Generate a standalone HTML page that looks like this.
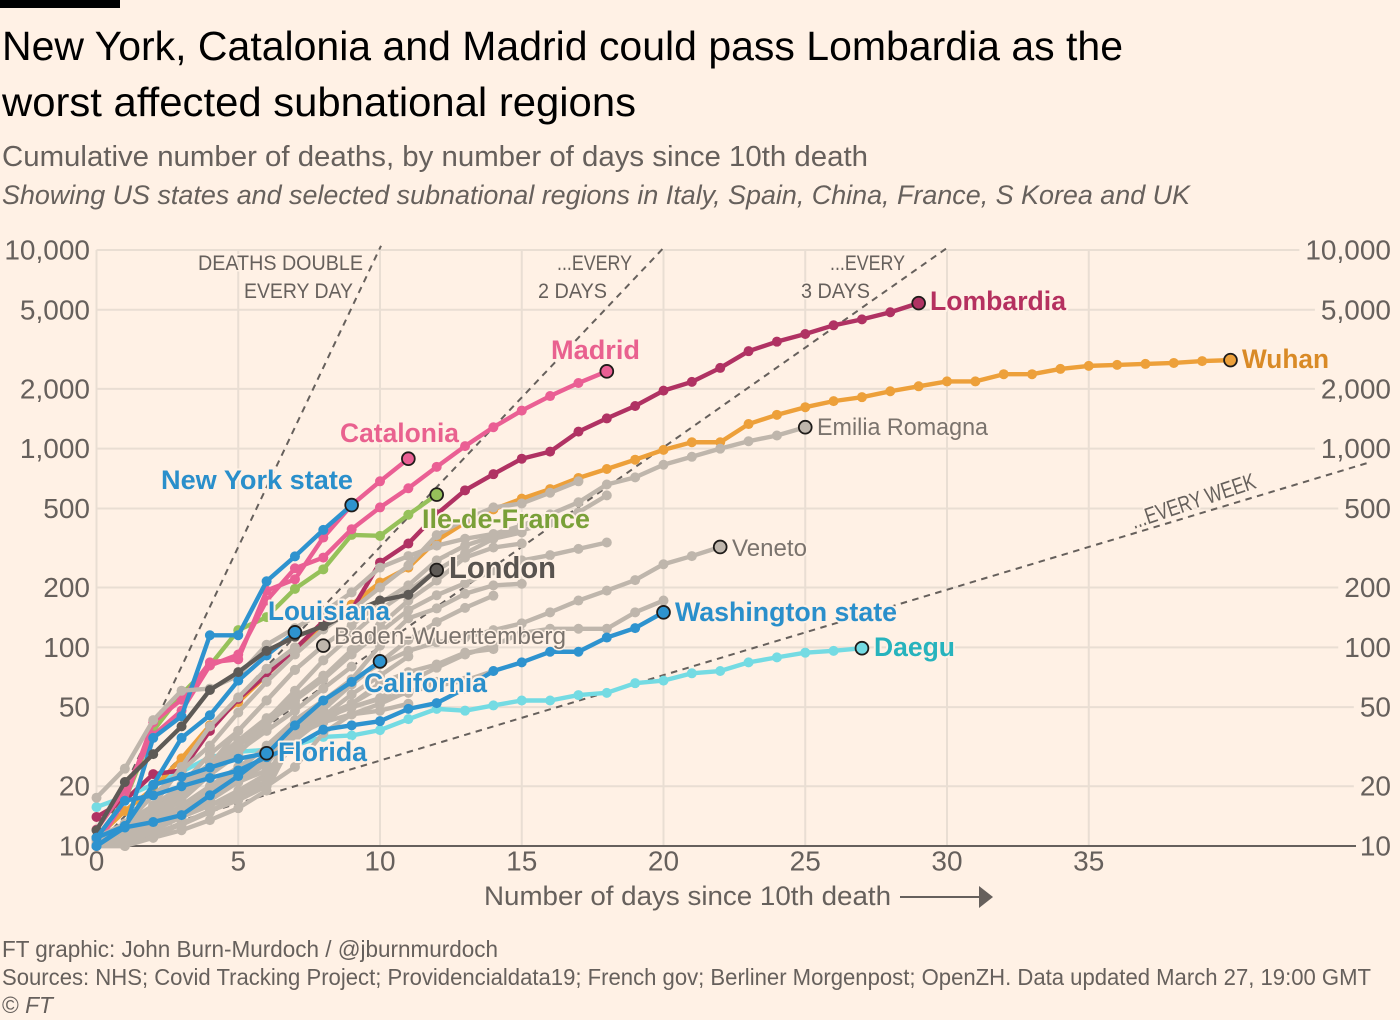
<!DOCTYPE html>
<html lang="en">
<head>
<meta charset="utf-8">
<title>New York, Catalonia and Madrid could pass Lombardia</title>
<style>
html,body{margin:0;padding:0;background:#fff1e5;}
svg{display:block;font-family:"Liberation Sans",sans-serif;}
.axis{font-size:28px;fill:#66605c;}
.note{font-size:21px;fill:#66605c;paint-order:stroke;stroke:#fff1e5;stroke-width:3px;}
.lab{font-weight:700;font-size:27px;paint-order:stroke;stroke:#fff1e5;stroke-width:4px;stroke-linejoin:round;}
.glab{font-size:24px;fill:#7a736d;paint-order:stroke;stroke:#fff1e5;stroke-width:3px;stroke-linejoin:round;}
.foot{font-size:23px;fill:#66605c;}
</style>
</head>
<body>
<svg id="chart" width="1400" height="1020" viewBox="0 0 1400 1020" xmlns="http://www.w3.org/2000/svg">
  <rect x="0" y="0" width="1400" height="1020" fill="#fff1e5"/>
  <rect x="0" y="0" width="120" height="8" fill="#000"/>
  <text x="2" y="60" font-size="41" fill="#000" textLength="1121" lengthAdjust="spacingAndGlyphs">New York, Catalonia and Madrid could pass Lombardia as the</text>
  <text x="2" y="116" font-size="41" fill="#000" textLength="634" lengthAdjust="spacingAndGlyphs">worst affected subnational regions</text>
  <text x="2" y="166" font-size="29" fill="#66605c" textLength="866" lengthAdjust="spacingAndGlyphs">Cumulative number of deaths, by number of days since 10th death</text>
  <text x="2" y="204" font-size="27" font-style="italic" fill="#66605c" textLength="1188" lengthAdjust="spacingAndGlyphs">Showing US states and selected subnational regions in Italy, Spain, China, France, S Korea and UK</text>

  <g id="grid"></g>
  <g id="ticks"></g>
  <g id="guides"></g>

  <g>
    <text class="note" x="198" y="270" textLength="165" lengthAdjust="spacingAndGlyphs">DEATHS DOUBLE</text>
    <text class="note" x="244" y="298" textLength="109" lengthAdjust="spacingAndGlyphs">EVERY DAY</text>
    <text class="note" x="557" y="270" textLength="75" lengthAdjust="spacingAndGlyphs">...EVERY</text>
    <text class="note" x="538" y="298" textLength="69" lengthAdjust="spacingAndGlyphs">2 DAYS</text>
    <text class="note" x="830" y="270" textLength="75" lengthAdjust="spacingAndGlyphs">...EVERY</text>
    <text class="note" x="801" y="298" textLength="69" lengthAdjust="spacingAndGlyphs">3 DAYS</text>
    <text class="note" style="font-size:23px" transform="translate(1134 529) rotate(-18.5)" x="0" y="0" textLength="130" lengthAdjust="spacingAndGlyphs">...EVERY WEEK</text>
  </g>

  <g id="series"></g>
  <g id="markers"></g>

  <g>
    <text class="lab" x="930" y="310" fill="#b5305f" textLength="136" lengthAdjust="spacingAndGlyphs">Lombardia</text>
    <text class="lab" x="1242" y="368" fill="#d98a26" textLength="87" lengthAdjust="spacingAndGlyphs">Wuhan</text>
    <text class="lab" x="551" y="359" fill="#e9618f" textLength="89" lengthAdjust="spacingAndGlyphs">Madrid</text>
    <text class="lab" x="340" y="442" fill="#e9618f" textLength="119" lengthAdjust="spacingAndGlyphs">Catalonia</text>
    <text class="lab" x="161" y="489" fill="#2a8fcb" textLength="192" lengthAdjust="spacingAndGlyphs">New York state</text>
    <text class="lab" x="422" y="528" fill="#7aa038" textLength="168" lengthAdjust="spacingAndGlyphs">Ile-de-France</text>
    <text class="lab" x="449" y="578" fill="#58534f" style="font-size:31px" textLength="107" lengthAdjust="spacingAndGlyphs">London</text>
    <text class="lab" x="268" y="620" fill="#2a8fcb" textLength="122" lengthAdjust="spacingAndGlyphs">Louisiana</text>
    <text class="lab" x="364" y="692" fill="#2a8fcb" textLength="123" lengthAdjust="spacingAndGlyphs">California</text>
    <text class="lab" x="278" y="761" fill="#2a8fcb" textLength="89" lengthAdjust="spacingAndGlyphs">Florida</text>
    <text class="lab" x="675" y="621" fill="#2a8fcb" textLength="222" lengthAdjust="spacingAndGlyphs">Washington state</text>
    <text class="lab" x="874" y="656" fill="#27b3bd" textLength="81" lengthAdjust="spacingAndGlyphs">Daegu</text>
    <text class="glab" x="334" y="644" textLength="232" lengthAdjust="spacingAndGlyphs">Baden-Wuerttemberg</text>
    <text class="glab" x="817" y="435" textLength="171" lengthAdjust="spacingAndGlyphs">Emilia Romagna</text>
    <text class="glab" x="732" y="556" textLength="75" lengthAdjust="spacingAndGlyphs">Veneto</text>
  </g>

  <text class="axis" x="484" y="905" style="font-size:27px" textLength="407" lengthAdjust="spacingAndGlyphs">Number of days since 10th death</text>
  <line x1="900" y1="897" x2="982" y2="897" stroke="#66605c" stroke-width="2"/>
  <polygon points="979,886 993,897 979,908" fill="#66605c"/>

  <text class="foot" x="2" y="957" textLength="496" lengthAdjust="spacingAndGlyphs">FT graphic: John Burn-Murdoch / @jburnmurdoch</text>
  <text class="foot" x="2" y="985" textLength="1369" lengthAdjust="spacingAndGlyphs">Sources: NHS; Covid Tracking Project; Providencialdata19; French gov; Berliner Morgenpost; OpenZH. Data updated March 27, 19:00 GMT</text>
  <text class="foot" x="2" y="1013" textLength="51" lengthAdjust="spacingAndGlyphs">© <tspan font-style="italic">FT</tspan></text>
</svg>

<script>
// ---- axis tick values ----
const xTicks = [0, 5, 10, 15, 20, 25, 30, 35];
const yTicks = [10, 20, 50, 100, 200, 500, 1000, 2000, 5000, 10000];
const yTickLabels = ["10", "20", "50", "100", "200", "500", "1,000", "2,000", "5,000", "10,000"];
const doublingPeriods = [1, 2, 3, 7];

// ---- highlighted series: cumulative deaths, index = days since 10th death ----
const lombardia = [14,17,23,24,38,55,73,98,135,154,267,333,468,617,744,890,966,1218,1420,1640,1959,2168,2549,3095,3456,3776,4178,4474,4861,5402];
const wuhan = [11,15,19.5,27.6,40.5,53,72.5,99,125,164,212,252,345,425,495,560,626,712,790,880,986,1077,1077,1330,1480,1617,1735,1816,1945,2060,2180,2180,2370,2370,2520,2610,2640,2670,2700,2760,2790];
const madrid = [12.1,19.2,36,48,81,92,172,250,283,393,506,632,810,1030,1282,1555,1840,2140,2450];
const catalonia = [10.1,17,42,54.5,84,87,193,220,357,520,685,890];
const newYorkState = [10,12,35,45,115,115,215,287,390,520];
const ileDeFrance = [11,17,38,58,81,122,142,197,247,368,364,465,587];
const london = [12,21,29,40,61,75,96,113,128,150,172,184,245];
const louisiana = [10,12.6,20.3,35,45.5,68,91,119];
const california = [10,12.4,13.2,14.3,18,22.5,29,40.5,54,67,85];
const florida = [11,12.6,20.3,22.3,24.8,27.5,29.3];
const washingtonState = [11,16.9,18,20,22,24,28,32,38.5,40.5,42.5,49,52.4,62,76,84,95,95,112,125,150];
const daegu = [15.7,17.7,20.4,23.6,28,29.8,30.5,32.2,35.4,36,38.3,43.5,49,48,51,54,54,57.5,59,66,68,74,76,84,89,94,96,99];

// ---- grey context series ----
const emiliaRomagna = [17.5,24.5,43,60.5,62,72,103,125,150,189,252,288,325,352,372,410,467,537,660,717,830,910,1000,1090,1165,1282];
const veneto = [10,11,13.6,15.5,19,24,32,43,54,69,82,96,106,112,122,132,150,172,193,218,262,288,320];
const badenWuerttemberg = [10,11,15,20.3,29,38,54,77,102];
const otherRegionA = [10.7,12.8,18,24,32,47,67,92,123,154,200,258,367,440,506,530,600,685];
const otherRegionB = [10,11,14.3,20.2,25.5,38,54,77,102,129,167,205,274,325,362,388,425,478,582];
const otherRegionC = [10,11.8,15.5,19.2,24,32,41,54,69,92,119,154,183,210,244,274,291,313,337];
const otherRegionD = [10,10.7,13.6,17,22.8,32,43,60.5,86,115,154,193,244,297,352,379];
const otherRegionE = [10.3,12,14.3,18,22.8,29,41,54,71,97,129,172,217,283,318,333];
const otherRegionF = [10,11,12.8,15,18,22.8,29,38,51,69,102,140,157,186,205,209];
const otherRegionG = [10,10.7,12,14.3,17,21.4,27,36,48.5,65,84,109,134,158,182];
const otherRegionH = [10,10.3,11.4,12.8,14.8,18,22.8,38,44,50,55.5,67,79,92,102,118,124,124,124,150,172];
const otherRegionI = [10,10.5,11.5,13,15,17.5,21,36,45,52,66,75,82,94,98];
const otherRegionJ = [10,10.3,11,12,13.5,15.5,19,36,42,46,52,60,64,68,76];
const otherRegionK = [10,11,13,16,20,25,31,40,52,66,85];
const otherRegionL = [10,10.5,12.5,15,18,23,28,35,45,58,72,90];
const otherRegionM = [10,10.6,12,14,17,21,26,37,42,52,63];
const otherRegionN = [10,12,14.5,18,23,30,38,48,62,80];
const otherRegionO = [10,11,13,15,18,22,27,34,44,50,55,59,67];
const otherRegionP = [10,10,11,13,15,17,20,25,37,46,48,52];
const otherRegionQ = [11,13,16,20,26,34,44,56,72];
const otherRegionR = [10,12,15,19,25,33,42,52];
const otherRegionS = [10,10.5,12,14,16,19,23];
const otherRegionT = [10,11,14,18,24,32,40];
const otherRegionU = [10,10,11.9,14.3,16,18,21.2];
const otherRegionV = [10,10.6,12.5,15,18.5,21,24];
const otherRegionW = [10,12,16,25,40,56,78,100];

const greyRegions = [emiliaRomagna, veneto, badenWuerttemberg, otherRegionA, otherRegionB, otherRegionC, otherRegionD, otherRegionE, otherRegionF, otherRegionG, otherRegionH, otherRegionI, otherRegionJ, otherRegionK, otherRegionL, otherRegionM, otherRegionN, otherRegionO, otherRegionP, otherRegionQ, otherRegionR, otherRegionS, otherRegionT, otherRegionU, otherRegionV, otherRegionW];
const greyRegionNames = ["emilia-romagna","veneto","baden-wuerttemberg","region-a","region-b","region-c","region-d","region-e","region-f","region-g","region-h","region-i","region-j","region-k","region-l","region-m","region-n","region-o","region-p","region-q","region-r","region-s","region-t","region-u","region-v","region-w"];

// ---- scales ----
const NS = "http://www.w3.org/2000/svg";
function xScale(day){ return 96.5 + day * 28.35; }
function yScale(deaths){ return 846 - 198.67 * Math.log10(deaths / 10); }
const GUIDE_END_DAY = 44.9;
const Y_MAX = 10000;

const gridLayer = document.getElementById("grid");
const tickLayer = document.getElementById("ticks");
const guideLayer = document.getElementById("guides");
const seriesLayer = document.getElementById("series");
const markerLayer = document.getElementById("markers");

function drawLine(parent, name, values, color){
  const group = document.createElementNS(NS, "g");
  
  
  const line = document.createElementNS(NS, "polyline");
  
  
  line.setAttribute("points", values.map(function(v, d){ return xScale(d) + "," + yScale(v); }).join(" "));
  line.setAttribute("fill", "none");
  line.setAttribute("stroke", color);
  line.setAttribute("stroke-width", "4.4");
  line.setAttribute("stroke-linejoin", "round");
  group.appendChild(line);
  values.forEach(function(v, d){
    const dot = document.createElementNS(NS, "circle");
    
    
    dot.setAttribute("cx", xScale(d));
    dot.setAttribute("cy", yScale(v));
    dot.setAttribute("r", "5");
    dot.setAttribute("fill", color);
    group.appendChild(dot);
  });
  parent.appendChild(group);
}

function drawEndMarker(name, values, color){
  const last = values.length - 1;
  const marker = document.createElementNS(NS, "circle");
  
  
  marker.setAttribute("cx", xScale(last));
  marker.setAttribute("cy", yScale(values[last]));
  marker.setAttribute("r", "6.4");
  marker.setAttribute("fill", color);
  marker.setAttribute("stroke", "#1f1c1a");
  marker.setAttribute("stroke-width", "1.8");
  markerLayer.appendChild(marker);
}

// ---- y ticks and horizontal gridlines ----
yTicks.forEach(function(tick, i){
  const left = document.createElementNS(NS, "text");
  
  
  left.setAttribute("class", "axis");
  left.setAttribute("x", 90);
  left.setAttribute("y", yScale(tick) + 9.5);
  left.setAttribute("text-anchor", "end");
  left.textContent = yTickLabels[i];
  tickLayer.appendChild(left);

  const right = document.createElementNS(NS, "text");
  
  
  right.setAttribute("class", "axis");
  right.setAttribute("x", 1391);
  right.setAttribute("y", yScale(tick) + 9.5);
  right.setAttribute("text-anchor", "end");
  right.textContent = yTickLabels[i];
  tickLayer.appendChild(right);

  if (tick > 10) {
    const g = document.createElementNS(NS, "line");
    
    
    g.setAttribute("x1", xScale(0));
    g.setAttribute("x2", 1391 - right.getComputedTextLength() - 6);
    g.setAttribute("y1", yScale(tick));
    g.setAttribute("y2", yScale(tick));
    g.setAttribute("stroke", "#e9ded3");
    g.setAttribute("stroke-width", "2");
    gridLayer.appendChild(g);
  }
});

// ---- x ticks and vertical gridlines ----
xTicks.forEach(function(tick){
  const g = document.createElementNS(NS, "line");
  
  
  g.setAttribute("x1", xScale(tick));
  g.setAttribute("x2", xScale(tick));
  g.setAttribute("y1", yScale(Y_MAX));
  g.setAttribute("y2", yScale(10));
  g.setAttribute("stroke", "#e9ded3");
  g.setAttribute("stroke-width", "2");
  gridLayer.appendChild(g);

  const label = document.createElementNS(NS, "text");
  
  
  label.setAttribute("class", "axis");
  label.setAttribute("x", xScale(tick));
  label.setAttribute("y", 870.5);
  label.setAttribute("text-anchor", "middle");
  label.textContent = tick;
  tickLayer.appendChild(label);
});

// ---- x axis baseline ----
const baseline = document.createElementNS(NS, "line");


baseline.setAttribute("x1", xScale(0));
baseline.setAttribute("x2", 1356);
baseline.setAttribute("y1", yScale(10));
baseline.setAttribute("y2", yScale(10));
baseline.setAttribute("stroke", "#66605c");
baseline.setAttribute("stroke-width", "2");
gridLayer.appendChild(baseline);

// ---- doubling guide lines ----
doublingPeriods.forEach(function(period){
  const endDay = Math.min(GUIDE_END_DAY, period * Math.log2(Y_MAX * 1.05 / 10));
  const guide = document.createElementNS(NS, "line");
  
  
  guide.setAttribute("x1", xScale(0));
  guide.setAttribute("y1", yScale(10));
  guide.setAttribute("x2", xScale(endDay));
  guide.setAttribute("y2", yScale(10 * Math.pow(2, endDay / period)));
  guide.setAttribute("stroke", "#66605c");
  guide.setAttribute("stroke-width", "2");
  guide.setAttribute("stroke-dasharray", "6.5 5.5");
  guideLayer.appendChild(guide);
});

// ---- series, back to front ----
drawLine(seriesLayer, "daegu", daegu, "#74dbe3");
drawLine(seriesLayer, "wuhan", wuhan, "#eda03a");
drawLine(seriesLayer, "lombardia", lombardia, "#b03263");
drawLine(seriesLayer, "ile-de-france", ileDeFrance, "#96c15a");
drawLine(seriesLayer, "madrid", madrid, "#ea5f94");
drawLine(seriesLayer, "catalonia", catalonia, "#ea5f94");
drawLine(seriesLayer, "new-york-state", newYorkState, "#2e93cf");
greyRegions.forEach(function(values, i){
  drawLine(seriesLayer, greyRegionNames[i], values, "#bfb6ac");
});
drawLine(seriesLayer, "louisiana", louisiana, "#2e93cf");
drawLine(seriesLayer, "london", london, "#5e5a56");
drawLine(seriesLayer, "florida", florida, "#2e93cf");
drawLine(seriesLayer, "washington-state", washingtonState, "#2e93cf");
drawLine(seriesLayer, "california", california, "#2e93cf");

// ---- end markers ----
drawEndMarker("emilia-romagna", emiliaRomagna, "#bfb6ac");
drawEndMarker("veneto", veneto, "#bfb6ac");
drawEndMarker("baden-wuerttemberg", badenWuerttemberg, "#bfb6ac");
drawEndMarker("lombardia", lombardia, "#b03263");
drawEndMarker("wuhan", wuhan, "#eda03a");
drawEndMarker("madrid", madrid, "#ea5f94");
drawEndMarker("catalonia", catalonia, "#ea5f94");
drawEndMarker("new-york-state", newYorkState, "#2e93cf");
drawEndMarker("ile-de-france", ileDeFrance, "#96c15a");
drawEndMarker("london", london, "#5e5a56");
drawEndMarker("louisiana", louisiana, "#2e93cf");
drawEndMarker("california", california, "#2e93cf");
drawEndMarker("florida", florida, "#2e93cf");
drawEndMarker("washington-state", washingtonState, "#2e93cf");
drawEndMarker("daegu", daegu, "#74dbe3");
</script>
</body>
</html>
